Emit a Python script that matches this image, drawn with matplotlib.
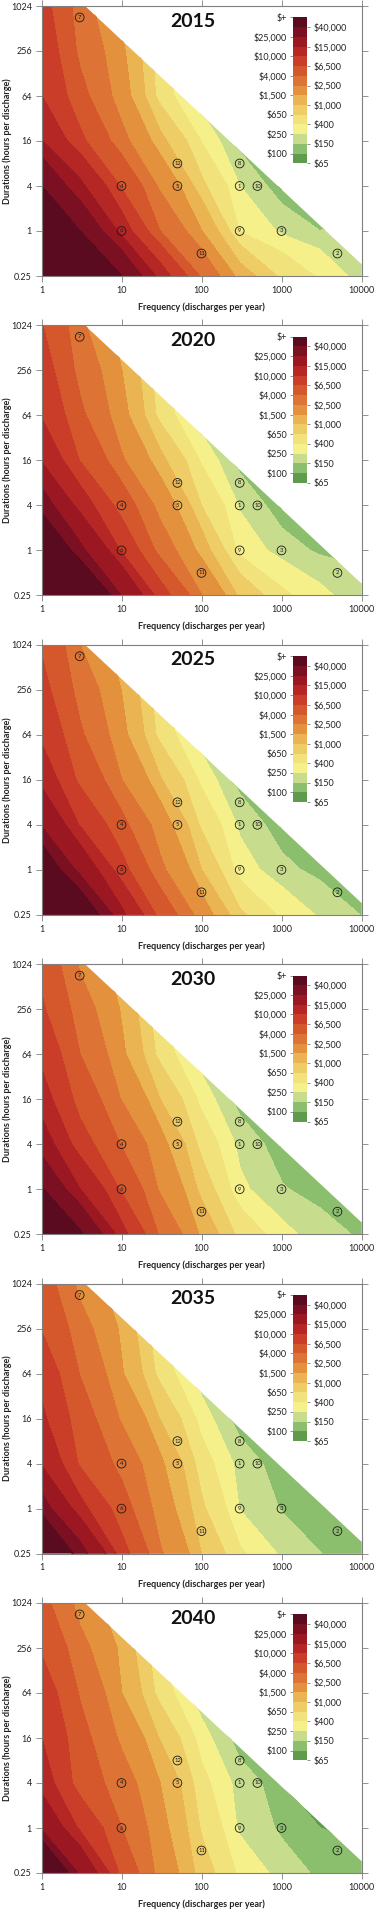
import numpy as np
import matplotlib
matplotlib.use("Agg")
import matplotlib.pyplot as plt
from matplotlib.colors import ListedColormap
from matplotlib.patches import Polygon

plt.rcParams['font.family'] = ['Lato', 'DejaVu Sans']

# ---------------- data ----------------
years = ["2015", "2020", "2025", "2030", "2035", "2040"]
freq = [1, 3, 10, 30, 100, 300, 1000, 3000, 10000]          # discharges per year
dur = [0.25, 1, 4, 16, 64, 256, 1024]                        # hours per discharge

# cost grids ($), rows = dur, cols = freq
cost_2015 = [
    [400000, 140000, 40000, 12000, 3600, 1200, 560, 360, 180],
    [130000, 40000, 12000, 4000, 1500, 380, 220, 150, 170],
    [40000, 16000, 6000, 2200, 700, 250, 90, 90, 90],
    [15000, 7000, 2800, 1100, 380, 110, 95, 95, 95],
    [10000, 4500, 1800, 520, 150, 110, 100, 100, 100],
    [8500, 3500, 1600, 450, 150, 110, 110, 110, 110],
    [7500, 3000, 1200, 400, 150, 110, 110, 110, 110],
]
cost_2020 = [
    [270000, 88000, 24000, 7700, 2500, 880, 430, 280, 160],
    [83000, 27000, 9100, 3200, 1200, 330, 190, 130, 140],
    [30000, 12000, 5000, 2000, 630, 230, 92, 89, 87],
    [14000, 6300, 2600, 1100, 360, 107, 92, 91, 91],
    [9500, 4300, 1700, 540, 150, 107, 96, 95, 95],
    [7800, 3300, 1500, 440, 150, 107, 103, 102, 102],
    [6600, 2700, 1100, 390, 145, 107, 103, 102, 102],
]
cost_2025 = [
    [200000, 61000, 16000, 5400, 1800, 690, 340, 230, 144],
    [58000, 20000, 7300, 2700, 990, 300, 173, 116, 95],
    [23000, 9500, 4400, 1850, 570, 220, 94, 88, 85],
    [12500, 5700, 2500, 1030, 340, 105, 90, 88, 88],
    [9000, 4200, 1660, 540, 160, 105, 93, 90, 90],
    [7300, 3200, 1460, 430, 150, 105, 98, 95, 95],
    [6000, 2500, 1050, 380, 141, 105, 98, 95, 95],
]
cost_2030 = [
    [146000, 42000, 11000, 3700, 1330, 540, 280, 186, 131],
    [41000, 15000, 5900, 2300, 830, 270, 156, 110, 93],
    [18000, 7500, 3800, 1700, 525, 210, 96, 87, 83],
    [11500, 5250, 2400, 1000, 326, 103, 88, 85, 85],
    [8650, 4000, 1600, 530, 160, 103, 90, 86, 86],
    [6800, 3000, 1400, 417, 150, 103, 93, 89, 89],
    [5400, 2300, 1000, 366, 137, 103, 93, 89, 89],
]
cost_2035 = [
    [107000, 29000, 7400, 2600, 980, 420, 223, 151, 118],
    [29000, 11000, 4700, 1900, 690, 240, 141, 104, 91],
    [14000, 6000, 3300, 1600, 480, 198, 98, 86, 82],
    [10600, 4800, 2300, 970, 310, 101, 86, 82, 82],
    [8300, 3900, 1540, 530, 157, 101, 87, 83, 83],
    [6300, 2900, 1340, 410, 150, 101, 88, 84, 84],
    [4900, 2100, 940, 360, 133, 101, 88, 84, 84],
]
cost_2040 = [
    [85000, 22000, 5500, 2000, 780, 350, 190, 130, 110],
    [22000, 9000, 4000, 1700, 600, 220, 130, 100, 90],
    [12000, 5000, 3000, 1500, 450, 190, 100, 85, 80],
    [10000, 4500, 2200, 950, 300, 100, 85, 80, 80],
    [8000, 3800, 1500, 520, 150, 100, 85, 80, 80],
    [6000, 2800, 1300, 400, 150, 100, 85, 80, 80],
    [4500, 2000, 900, 350, 130, 100, 85, 80, 80],
]
grids = [cost_2015, cost_2020, cost_2025, cost_2030, cost_2035, cost_2040]

# contour boundaries ($) and colours
bounds = [1, 100, 150, 250, 400, 650, 1000, 1500, 2500, 4000, 6500,
          10000, 15000, 25000, 40000, 1e8]
band_colors = ['#5e9b4c', '#8cbf6d', '#c7dd8d', '#f5f08a', '#f2e27c',
               '#eecd67', '#eab452', '#e4913e', '#dd7334', '#d5582d',
               '#c93d29', '#b52725', '#9b1823', '#7c1023', '#5a0b1f']
cbar_right_labels = ['$65', '$150', '$400', '$1,000', '$2,500', '$6,500',
                     '$15,000', '$40,000']
cbar_left_labels = ['$100', '$250', '$650', '$1,500', '$4,000', '$10,000',
                    '$25,000', '$+']

# feasible region edge (freq * duration limit)
edge_f = [3.5, 10000]
edge_d = [1024, 0.36]

# numbered cases
mk_f = [300, 5000, 1000, 10, 50, 10, 3, 300, 300, 500, 100, 50]
mk_d = [4, 0.5, 1, 4, 4, 1, 720, 8, 1, 4, 0.5, 8]
mk_lab = [str(i) for i in range(1, 13)]

xticks = [1, 10, 100, 1000, 10000]
yticks = [0.25, 1, 4, 16, 64, 256, 1024]
ytick_labels = ['0.25', '1', '4', '16', '64', '256', '1024']

# ---------------- figure ----------------
W, H = 381, 1912
fig = plt.figure(figsize=(W / 100, H / 100), dpi=100)
cmap = ListedColormap(band_colors)
gray = '#7f7f7f'

F, D = np.meshgrid(freq, dur)
lev = np.log10(bounds)

for i, (yr, grid) in enumerate(zip(years, grids)):
    top = 6 + 319.4 * i
    ax = fig.add_axes([41.5 / W, 1 - (top + 270) / H, 320 / W, 270 / H])
    ax.set_xscale('log')
    ax.set_yscale('log', base=2)
    ax.set_xlim(1, 10000)
    ax.set_ylim(0.25, 1024)

    Z = np.log10(np.array(grid, dtype=float))
    cs = ax.contourf(F, D, Z, levels=lev, colors=band_colors)
    cs.set_edgecolor('face')
    cs.set_linewidth(0.6)
    poly = Polygon([(freq[0], dur[0]), (freq[0], dur[-1]),
                    (edge_f[0], edge_d[0]), (edge_f[1], edge_d[1]),
                    (freq[-1], dur[0])], closed=True, transform=ax.transData)
    cs.set_clip_path(poly)

    ax.scatter(mk_f, mk_d, s=40, facecolors='none', edgecolors='#1a1a1a',
               linewidths=0.6, zorder=5)
    for xf, yd, lb in zip(mk_f, mk_d, mk_lab):
        ax.text(xf, yd, lb, ha='center', va='center', fontsize=4.2,
                color='#1a1a1a', zorder=6)

    ax.set_xticks(xticks)
    ax.set_xticklabels([str(v) for v in xticks])
    ax.set_yticks(yticks)
    ax.set_yticklabels(ytick_labels)
    ax.minorticks_off()
    ax.tick_params(which='both', direction='out', top=True, right=True,
                   length=4, width=0.6, color=gray, labelsize=6.5, pad=3,
                   labelcolor='#222222')
    for sp in ax.spines.values():
        sp.set_color(gray)
        sp.set_linewidth(0.8)
        sp.set_zorder(7)

    ax.set_xlabel('Frequency (discharges per year)', fontsize=6.5,
                  fontweight='bold', color='#222222')
    ax.xaxis.label.set_va('center')
    ax.xaxis.set_label_coords(0.5, -31 / 270)
    ax.set_ylabel('Durations (hours per discharge)', fontsize=6.5,
                  fontweight='bold', color='#222222')
    ax.yaxis.label.set_va('center')
    ax.yaxis.set_label_coords(-34.5 / 320, 0.5)

    ax.text(0.473, 0.944, yr, transform=ax.transAxes, ha='center',
            va='center', fontsize=14, fontweight='bold', color='#111111')

    # colour bar
    cax = ax.inset_axes([0.787, 0.417, 0.044, 0.541])
    nb = len(band_colors)
    cax.pcolormesh([0, 1], np.arange(nb + 1), np.arange(nb).reshape(-1, 1),
                   cmap=cmap, vmin=-0.5, vmax=nb - 0.5)
    cax.set_xlim(0, 1)
    cax.set_ylim(0, nb)
    cax.set_xticks([])
    cax.yaxis.tick_right()
    cax.set_yticks(np.arange(0, nb + 1, 2))
    cax.set_yticklabels(cbar_right_labels)
    cax.tick_params(axis='y', length=2.5, width=0.6, color=gray, pad=2,
                    labelsize=6.5, labelcolor='#222222')
    sec = cax.secondary_yaxis('left')
    sec.set_yticks(np.arange(1, nb + 1, 2))
    sec.set_yticklabels(cbar_left_labels)
    sec.tick_params(axis='y', length=2.5, width=0.6, color=gray, pad=2,
                    labelsize=6.5, labelcolor='#222222')
    sec.spines['left'].set_visible(False)
    for sp in cax.spines.values():
        sp.set_visible(False)

fig.savefig('out.png', dpi=100)
